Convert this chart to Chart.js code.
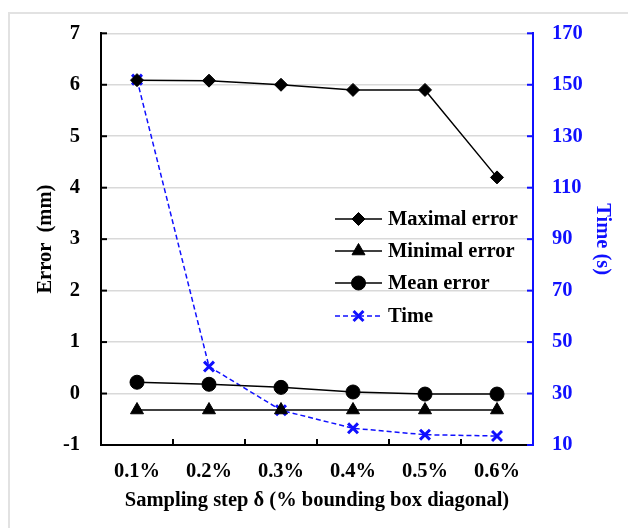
<!DOCTYPE html>
<html>
<head>
<meta charset="utf-8">
<script src="https://cdn.jsdelivr.net/npm/chart.js@4"></script>
<style>
  html, body { margin: 0; padding: 0; background: #fff; overflow: hidden; }
  #frame { position: absolute; left: 8px; top: 12px; width: 700px; height: 600px; border: 2px solid #e2e2e2; }
  #wrap { position: absolute; left: 0; top: 0; width: 628px; height: 528px; }
</style>
</head>
<body>
<div id="frame"></div>
<div id="wrap"><canvas id="errorChart" width="628" height="528"></canvas></div>
<script>
// data
const steps = ['0.1%', '0.2%', '0.3%', '0.4%', '0.5%', '0.6%'];
const maximalError = [6.09, 6.08, 6.0, 5.9, 5.9, 4.2];
const minimalError = [-0.32, -0.32, -0.32, -0.32, -0.32, -0.32];
const meanError = [0.22, 0.18, 0.12, 0.03, -0.01, -0.01];
const timeSec = [152, 40.5, 23.5, 16.5, 14, 13.5];

const SERIF = "'Liberation Serif', 'Times New Roman', serif";
const BLUE = '#1010ff';

// inward tick marks on the three axes
const innerTicks = {
    id: 'innerTicks',
    afterDraw(chart) {
        const ctx = chart.ctx;
        const area = chart.chartArea;
        const y = chart.scales.y, y1 = chart.scales.y1, x = chart.scales.x;
        ctx.save();
        ctx.lineWidth = 2;
        ctx.strokeStyle = '#000';
        y.ticks.forEach(t => {
            const py = y.getPixelForValue(t.value);
            ctx.beginPath(); ctx.moveTo(area.left, py); ctx.lineTo(area.left + 6, py); ctx.stroke();
        });
        for (let i = 1; i < steps.length; i++) {
            const px = x.getPixelForValue(i - 0.5);
            ctx.beginPath(); ctx.moveTo(px, area.bottom); ctx.lineTo(px, area.bottom - 6); ctx.stroke();
        }
        ctx.strokeStyle = BLUE;
        y1.ticks.forEach(t => {
            const py = y1.getPixelForValue(t.value);
            ctx.beginPath(); ctx.moveTo(area.right, py); ctx.lineTo(area.right - 6, py); ctx.stroke();
        });
        ctx.restore();
    }
};

// legend drawn inside the plot, line sample with marker
const insideLegend = {
    id: 'insideLegend',
    afterDraw(chart) {
        const ctx = chart.ctx;
        const x0 = 335, x1 = 382, tx = 388;
        const rows = [219, 251, 283, 316];
        ctx.save();
        chart.data.datasets.forEach((ds, i) => {
            const yy = rows[i];
            ctx.strokeStyle = ds.borderColor;
            ctx.lineWidth = ds.borderWidth;
            ctx.setLineDash(ds.borderDash || []);
            ctx.beginPath(); ctx.moveTo(x0, yy); ctx.lineTo(x1, yy); ctx.stroke();
            ctx.setLineDash([]);
            ctx.fillStyle = ds.pointBackgroundColor;
            ctx.strokeStyle = ds.pointBorderColor;
            ctx.lineWidth = ds.pointBorderWidth;
            Chart.helpers.drawPoint(ctx, {
                pointStyle: ds.pointStyle, radius: ds.pointRadius, rotation: 0, borderWidth: ds.pointBorderWidth
            }, (x0 + x1) / 2, yy);
            ctx.fillStyle = '#000';
            ctx.font = 'bold 20.5px ' + SERIF;
            ctx.textBaseline = 'middle';
            ctx.textAlign = 'left';
            ctx.fillText(ds.label, tx, yy + 1);
        });
        ctx.restore();
    }
};

new Chart(document.getElementById('errorChart').getContext('2d'), {
    type: 'line',
    data: {
        labels: steps,
        datasets: [
            {
                label: 'Maximal error',
                data: maximalError,
                yAxisID: 'y',
                borderColor: '#000',
                borderWidth: 1.5,
                pointStyle: 'rectRot',
                pointRadius: 6.5,
                pointBackgroundColor: '#000',
                pointBorderColor: '#000',
                pointBorderWidth: 1
            },
            {
                label: 'Minimal error',
                data: minimalError,
                yAxisID: 'y',
                borderColor: '#000',
                borderWidth: 1.5,
                pointStyle: 'triangle',
                pointRadius: 7.5,
                pointBackgroundColor: '#000',
                pointBorderColor: '#000',
                pointBorderWidth: 1
            },
            {
                label: 'Mean error',
                data: meanError,
                yAxisID: 'y',
                borderColor: '#000',
                borderWidth: 1.5,
                pointStyle: 'circle',
                pointRadius: 7,
                pointBackgroundColor: '#000',
                pointBorderColor: '#000',
                pointBorderWidth: 1
            },
            {
                label: 'Time',
                data: timeSec,
                yAxisID: 'y1',
                borderColor: BLUE,
                borderWidth: 1.5,
                borderDash: [5, 3],
                pointStyle: 'crossRot',
                pointRadius: 7,
                pointBackgroundColor: BLUE,
                pointBorderColor: BLUE,
                pointBorderWidth: 3
            }
        ]
    },
    options: {
        responsive: false,
        animation: false,
        layout: { padding: { top: 32, right: 0, bottom: 0, left: 0 } },
        plugins: {
            legend: { display: false },
            tooltip: { enabled: false }
        },
        scales: {
            x: {
                offset: true,
                grid: { display: false, drawTicks: false },
                border: { color: '#000', width: 2 },
                ticks: { color: '#000', padding: 14, font: { family: SERIF, size: 20.5, weight: 'bold' } },
                title: {
                    display: true,
                    text: 'Sampling step \u03b4 (% bounding box diagonal)',
                    color: '#000',
                    font: { family: SERIF, size: 20.5, weight: 'bold' },
                    padding: { top: 0, bottom: 15 }
                },
                afterFit: s => { s.height = 83; }
            },
            y: {
                position: 'left',
                min: -1,
                max: 7,
                ticks: { stepSize: 1, color: '#000', padding: 21, font: { family: SERIF, size: 20.5, weight: 'bold' } },
                grid: { color: '#d9d9d9', lineWidth: 1.5, drawTicks: false },
                border: { color: '#000', width: 2 },
                title: {
                    display: true,
                    text: 'Error  (mm)',
                    color: '#000',
                    font: { family: SERIF, size: 20.5, weight: 'bold' },
                    padding: { top: 33, bottom: 0 }
                },
                afterFit: s => { s.width = 101; }
            },
            y1: {
                position: 'right',
                min: 10,
                max: 170,
                ticks: { stepSize: 20, color: BLUE, padding: 19, font: { family: SERIF, size: 20.5, weight: 'bold' } },
                grid: { display: false, drawTicks: false },
                border: { color: BLUE, width: 2 },
                title: {
                    display: true,
                    text: 'Time (s)',
                    color: BLUE,
                    font: { family: SERIF, size: 20.5, weight: 'bold' },
                    padding: { top: 13, bottom: 0 }
                },
                afterFit: s => { s.width = 95; }
            }
        }
    },
    plugins: [innerTicks, insideLegend]
});
</script>
</body>
</html>
